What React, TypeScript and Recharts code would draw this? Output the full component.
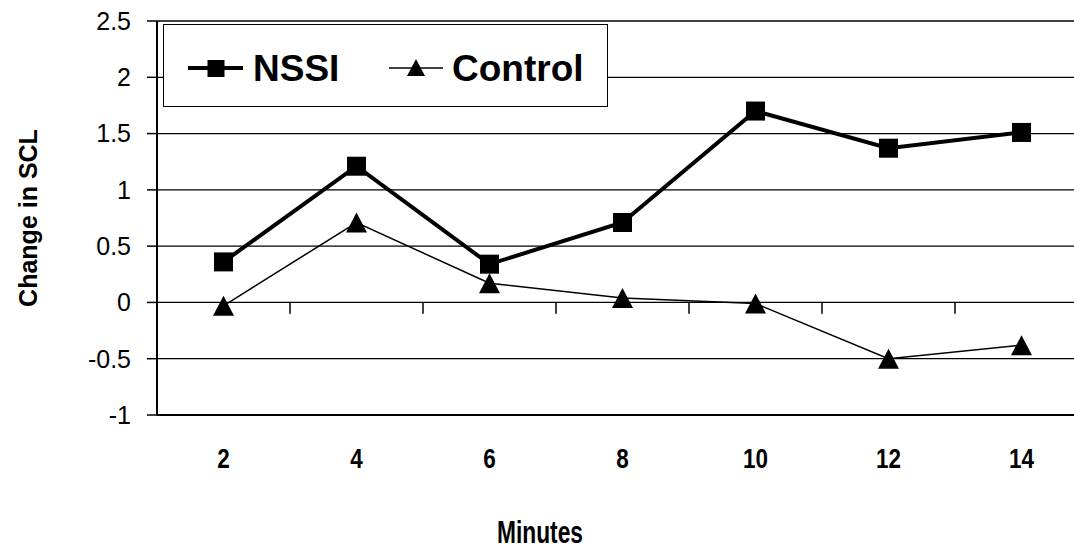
import React from 'react';
import { LineChart, Line, XAxis, YAxis, CartesianGrid, Legend, ReferenceLine } from 'recharts';

const minutes = [2, 4, 6, 8, 10, 12, 14];
const nssi = [0.36, 1.21, 0.34, 0.71, 1.7, 1.37, 1.51];
const control = [-0.03, 0.71, 0.17, 0.04, -0.01, -0.5, -0.38];
const yTicks = [-1, -0.5, 0, 0.5, 1, 1.5, 2, 2.5];
const categoryBoundaries = [3, 5, 7, 9, 11, 13];

const data = minutes.map((m, i) => ({ minute: m, nssi: nssi[i], control: control[i] }));

const FONT = '"Liberation Sans", Arial, sans-serif';

const SquareDot = (props: any) => {
  const { cx, cy, index } = props;
  if (cx == null || cy == null) return <g key={`s${index}`} />;
  return <rect key={`s${index}`} x={cx - 9.5} y={cy - 9.5} width={19} height={19} fill="#000" />;
};

const TriangleDot = (props: any) => {
  const { cx, cy, index } = props;
  if (cx == null || cy == null) return <g key={`t${index}`} />;
  return (
    <polygon
      key={`t${index}`}
      points={`${cx},${cy - 10} ${cx + 10.5},${cy + 10} ${cx - 10.5},${cy + 10}`}
      fill="#000"
    />
  );
};

const XTick = (props: any) => {
  const { x, y, payload } = props;
  const label = String(payload.value);
  return (
    <text
      x={x}
      y={y + 19}
      textAnchor="middle"
      fontFamily={FONT}
      fontWeight="bold"
      fontSize={28}
      fill="#000"
      textLength={label.length * 12.5}
      lengthAdjust="spacingAndGlyphs"
    >
      {label}
    </text>
  );
};

const renderLegend = () => (
  <svg width={445} height={83} style={{ display: 'block' }}>
    <line x1={24} y1={43} x2={79} y2={43} stroke="#000" strokeWidth={4} />
    <rect x={43.5} y={35} width={17} height={17} fill="#000" />
    <text x={89} y={56} fontFamily={FONT} fontWeight="bold" fontSize={37} fill="#000">NSSI</text>
    <line x1={225} y1={43} x2={279} y2={43} stroke="#000" strokeWidth={1.5} />
    <polygon points="252,34 261,51 243,51" fill="#000" />
    <text x={288} y={56} fontFamily={FONT} fontWeight="bold" fontSize={37} fill="#000">Control</text>
  </svg>
);

export default function App() {
  return (
    <div style={{ position: 'absolute', left: 0, top: 0, width: 1074, height: 552, overflow: 'hidden', background: '#fff' }}>
      <LineChart width={1100} height={552} data={data} margin={{ top: 21, right: 12, bottom: 0, left: 0 }}>
        <CartesianGrid vertical={false} stroke="#000" strokeWidth={1.3} />
        <XAxis
          dataKey="minute"
          type="number"
          domain={[1, 15]}
          ticks={minutes}
          height={137}
          tickLine={false}
          tickSize={0}
          tickMargin={34}
          axisLine={{ stroke: '#000', strokeWidth: 2 }}
          tick={XTick}
          label={{
            content: () => (
              <text
                x={540}
                y={543}
                textAnchor="middle"
                fontFamily={FONT}
                fontWeight="bold"
                fontSize={31}
                fill="#000"
                textLength={86}
                lengthAdjust="spacingAndGlyphs"
              >
                Minutes
              </text>
            ),
          }}
        />
        <YAxis
          type="number"
          domain={[-1, 2.5]}
          ticks={yTicks}
          width={157}
          tickSize={10}
          tickMargin={16}
          interval={0}
          axisLine={{ stroke: '#000', strokeWidth: 2 }}
          tickLine={{ stroke: '#000', strokeWidth: 1.5 }}
          tick={{ fontSize: 25, fontFamily: FONT, fill: '#000' }}
          tickFormatter={(v: number) => String(v)}
          label={{
            content: (p: any) => {
              const vb = p.viewBox || { y: 21, height: 394 };
              const cy = vb.y + vb.height / 2;
              return (
                <text
                  x={28}
                  y={cy}
                  transform={`rotate(-90, 28, ${cy})`}
                  textAnchor="middle"
                  dominantBaseline="central"
                  fontFamily={FONT}
                  fontWeight="bold"
                  fontSize={25}
                  fill="#000"
                >
                  Change in SCL
                </text>
              );
            },
          }}
        />
        {categoryBoundaries.map((b) => (
          <ReferenceLine
            key={`b${b}`}
            segment={[{ x: b, y: 0 }, { x: b, y: -0.1 }]}
            stroke="#000"
            strokeWidth={1.5}
            ifOverflow="visible"
          />
        ))}
        <Line
          dataKey="control"
          name="Control"
          stroke="#000"
          strokeWidth={1.5}
          dot={TriangleDot}
          activeDot={false}
          isAnimationActive={false}
        />
        <Line
          dataKey="nssi"
          name="NSSI"
          stroke="#000"
          strokeWidth={4}
          dot={SquareDot}
          activeDot={false}
          isAnimationActive={false}
        />
        <Legend
          layout="horizontal"
          verticalAlign="middle"
          align="center"
          content={renderLegend}
          wrapperStyle={{
            left: 163,
            top: 24,
            width: 445,
            height: 83,
            background: '#fff',
            border: '1.5px solid #000',
            boxSizing: 'border-box',
          }}
        />
      </LineChart>
    </div>
  );
}
